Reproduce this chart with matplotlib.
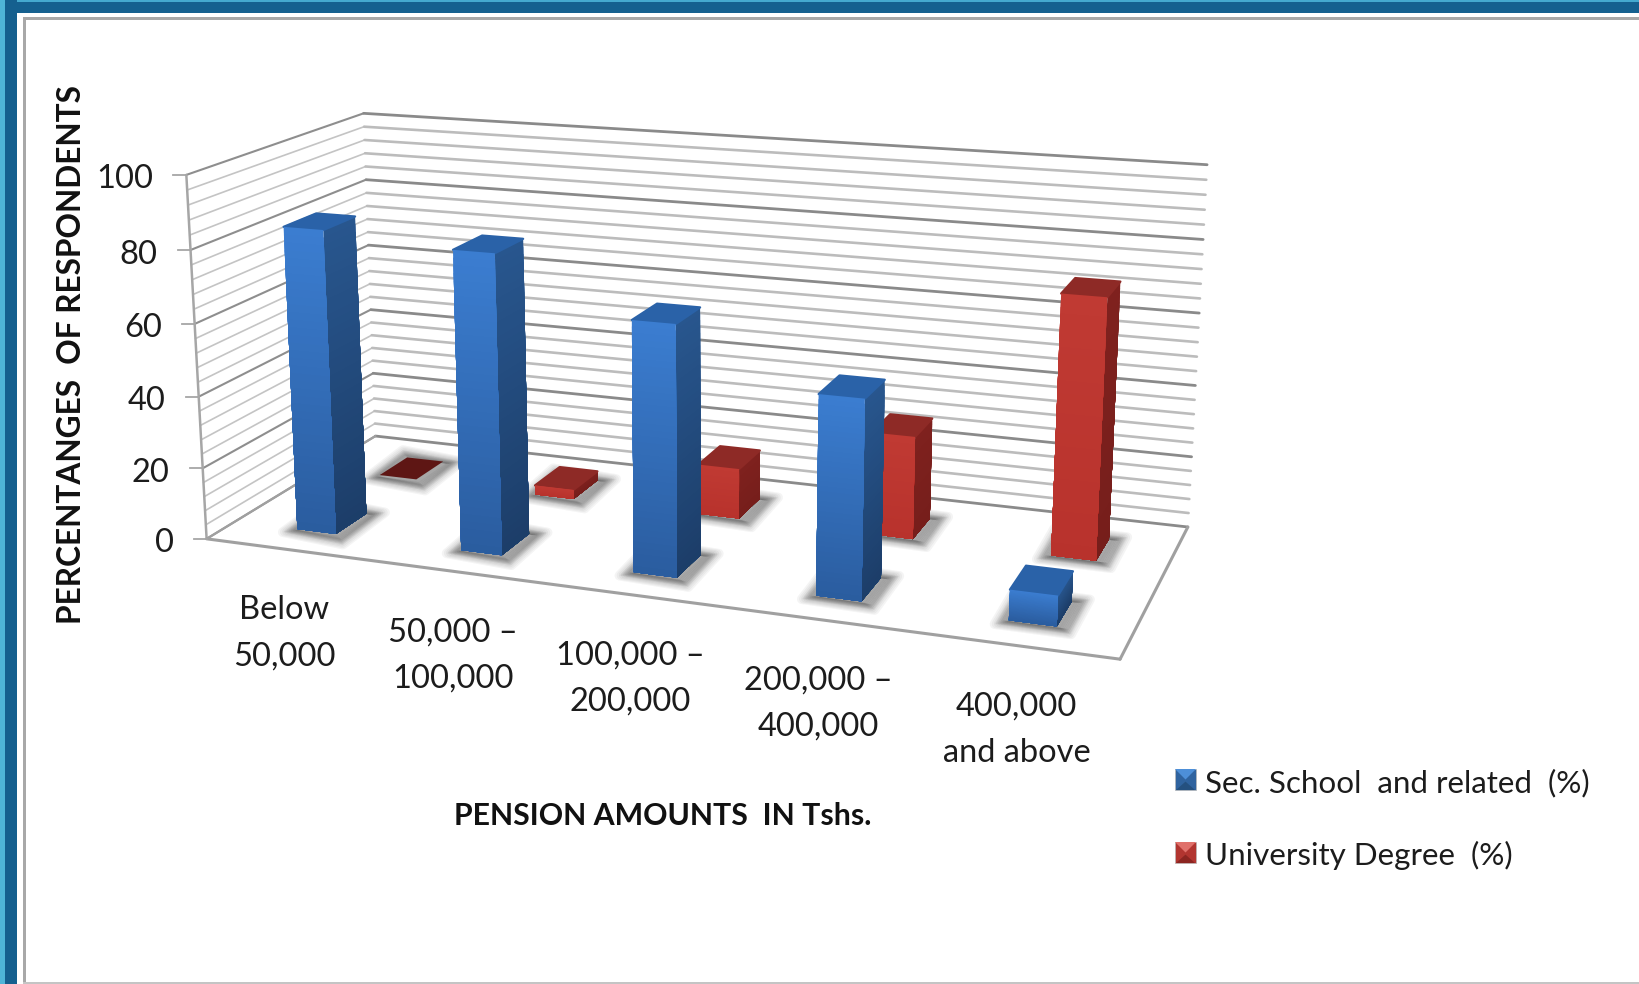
"""Pension amounts by education level, drawn as an Excel style 3-D column chart.

matplotlib's own 3-D axes cannot take the camera of the original, so the
projection is fitted to the corners of the chart box and faces are drawn as
polygons on a plain pixel-sized axes.
"""

import numpy as np
import matplotlib
matplotlib.use("Agg")
import matplotlib.pyplot as plt  # noqa: E402
from matplotlib.patches import Polygon, Rectangle  # noqa: E402

W, H = 1639, 984

CATEGORIES = ["Below\n50,000", "50,000 –\n100,000", "100,000 –\n200,000",
              "200,000 –\n400,000", "400,000\nand above"]
SEC_SCHOOL = [84.4, 81.9, 67.5, 52.9, 8.0]
UNIVERSITY = [0.3, 2.7, 14.3, 28.7, 71.0]
MAJOR_TICKS = [0, 20, 40, 60, 80, 100]
MINOR_STEP = 4

# chart box corner -> pixel, used to fit the camera
ANCHORS = [((0, 0, 0), (207, 538)), ((0, 0, 100), (186, 175)),
           ((0, 1, 100), (364, 113)), ((0, 1, 0), (375, 437)),
           ((5, 1, 100), (1207, 165)), ((5, 1, 0), (1188, 526)),
           ((5, 0, 0), (1120, 660))]

BLUE = dict(front=("#3b7dd0", "#2a5c9e"), side=("#28568e", "#1c3d68"), top="#2a62a8", flat="#2a62a8")
RED = dict(front=("#c03a33", "#b8322c"), side=("#7f211e", "#761e1b"), top="#8e2a26", flat="#5e1614")


def fit_camera():
    rows = []
    for (x, y, z), (u, v) in ANCHORS:
        p = [x, y, z / 100, 1]
        rows.append(p + [0] * 4 + [-u * c for c in p])
        rows.append([0] * 4 + p + [-v * c for c in p])
    return np.linalg.svd(np.array(rows, float))[2][-1].reshape(3, 4)


CAM = fit_camera()


def proj(x, y, z):
    h = CAM @ np.array([x, y, z / 100, 1])
    return h[:2] / h[2]


def gradient_face(ax, corners, colors, zorder, n=40):
    # corners: top-left, top-right, bottom-right, bottom-left in data space.
    # every slab runs down to the bottom edge, the next one paints over it,
    # that keeps hairline seams out of the gradient
    c0 = np.array(matplotlib.colors.to_rgb(colors[0]))
    c1 = np.array(matplotlib.colors.to_rgb(colors[1]))
    tl, tr, br, bl = [np.array(c, float) for c in corners]
    for i in range(n):
        a = i / n
        pts = [proj(*(tl + (bl - tl) * a)), proj(*(tr + (br - tr) * a)), proj(*br), proj(*bl)]
        ax.add_patch(Polygon(pts, closed=True, fc=c0 + (c1 - c0) * a, ec="none",
                             zorder=zorder + i * 0.0001))


def shadow(ax, x0, x1, y0, y1, zorder):
    base = np.array([proj(x0, y0, 0), proj(x1, y0, 0), proj(x1, y1, 0), proj(x0, y1, 0)])
    mid = base.mean(axis=0)
    away = base - mid
    away = away / np.linalg.norm(away, axis=1, keepdims=True)
    for k in range(2, 22, 2):
        pts = base + away * k * np.array([0.85, 0.5]) + np.array([2.0, 1.0])
        # stroke with round joins takes the points off the corners
        ax.add_patch(Polygon(pts, closed=True, fc="#303030", ec="#303030", lw=k * 0.35,
                             joinstyle="round", alpha=0.05, zorder=zorder))


def bar(ax, i, value, y0, y1, style, zorder):
    x0, x1 = i + 0.39, i + 0.63
    shadow(ax, x0, x1, y0, y1, zorder - 0.2)
    lid = [proj(x0, y0, value), proj(x1, y0, value), proj(x1, y1, value), proj(x0, y1, value)]
    if value < 1:
        # nearly no height: only the dark lid shows
        ax.add_patch(Polygon(lid, closed=True, fc=style["flat"], ec="none", zorder=zorder))
        return
    gradient_face(ax, [(x1, y0, value), (x1, y1, value), (x1, y1, 0), (x1, y0, 0)],
                  style["side"], zorder)
    ax.add_patch(Polygon(lid, closed=True, fc=style["top"], ec=style["top"], lw=1.6,
                         joinstyle="round", zorder=zorder + 0.05))
    gradient_face(ax, [(x0, y0, value), (x1, y0, value), (x1, y0, 0), (x0, y0, 0)],
                  style["front"], zorder + 0.1)


def line3(ax, a, b, color, lw, zorder=2):
    p, q = proj(*a), proj(*b)
    ax.plot([p[0], q[0]], [p[1], q[1]], color=color, lw=lw, zorder=zorder,
            solid_capstyle="round")


def legend_swatch(ax, x, y, size, base, light, dark):
    ax.add_patch(Rectangle((x, y), size, size, fc=base, ec="#b8b8b8", lw=0.5, zorder=5))
    ax.add_patch(Polygon([(x, y), (x + size, y), (x + size / 2, y + size / 2)],
                         closed=True, fc=light, ec="none", zorder=6))
    ax.add_patch(Polygon([(x + 1, y + size), (x + size - 1, y + size), (x + size / 2, y + size * 0.6)],
                         closed=True, fc=dark, ec="none", zorder=6))


def main():
    plt.rcParams["font.family"] = ["Lato", "DejaVu Sans"]
    fig = plt.figure(figsize=(W / 100, H / 100), dpi=100)
    ax = fig.add_axes([0, 0, 1, 1])
    ax.set_xlim(0, W)
    ax.set_ylim(H, 0)
    ax.axis("off")

    # slide frame
    ax.add_patch(Rectangle((0, 0), W, 13, fc="#15608f", ec="none", zorder=0))
    ax.add_patch(Rectangle((0, 0), W, 1.5, fc="#45a9cf", ec="none", zorder=0))
    ax.add_patch(Rectangle((0, 0), 17, H, fc="#15608f", ec="none", zorder=0))
    ax.add_patch(Rectangle((0, 0), 5, H, fc="#4fb5d8", ec="none", zorder=0))
    ax.add_patch(Rectangle((23, 17), W, 3, fc="#a8a8a8", ec="none", zorder=0))
    ax.add_patch(Rectangle((23, 17), 3, H, fc="#a8a8a8", ec="none", zorder=0))
    ax.add_patch(Rectangle((23, H - 2), W, 2, fc="#c4c4c4", ec="none", zorder=0))

    # walls: minor lines first, majors on top
    for z in np.arange(0, 100 + MINOR_STEP, MINOR_STEP):
        major = z in MAJOR_TICKS
        order = 2 if major else 1
        line3(ax, (0, 0, z), (0, 1, z), "#8e8e8e" if major else "#c4c4c4", 1.5 if major else 1.2, order)
        line3(ax, (0, 1, z), (5, 1, z), "#8a8a8a" if major else "#bcbcbc", 2.0 if major else 1.9, order)

    # box edges
    line3(ax, (0, 0, 0), (0, 0, 100), "#a6a6a6", 1.8)
    line3(ax, (0, 0, 0), (5, 0, 0), "#a0a0a0", 2.2)
    line3(ax, (5, 0, 0), (5, 1, 0), "#a0a0a0", 2.2)
    line3(ax, (0, 0, 0), (0, 1, 0), "#a0a0a0", 1.6)

    # value axis ticks and labels
    for z in MAJOR_TICKS:
        u, v = proj(0, 0, z)
        ax.plot([u - 13, u], [v, v], color="#a6a6a6", lw=1.3, zorder=2)
        ax.text(u - 33, v + 4.5, str(z), ha="right", va="center", fontsize=23.5, color="#1c1c1c")

    # painter's order: back row first
    for i in reversed(range(len(UNIVERSITY))):
        bar(ax, i, UNIVERSITY[i], 0.65, 0.83, RED, zorder=4 + 0.5 * i)
    for i in reversed(range(len(SEC_SCHOOL))):
        bar(ax, i, SEC_SCHOOL[i], 0.155, 0.335, BLUE, zorder=8 + 0.5 * i)

    # category labels hang off the front edge of the floor
    for i, label in enumerate(CATEGORIES):
        u, v = proj(i + 0.5, 0, 0)
        ax.text(u - 3 + i * 0.75, v + 84, label, ha="center", va="center", fontsize=23.5,
                color="#1c1c1c", linespacing=1.68)

    ax.text(72, 355, "PERCENTANGES  OF RESPONDENTS", rotation=90, ha="center", va="center",
            fontsize=22.8, fontweight="bold", color="#111111")
    ax.text(663, 816, "PENSION AMOUNTS  IN Tshs.", ha="center", va="center",
            fontsize=21.8, fontweight="bold", color="#111111")

    legend_swatch(ax, 1175, 769, 21, "#2f639f", "#4d8fd8", "#24507f")
    legend_swatch(ax, 1175, 842, 21, "#b23530", "#e0706a", "#8c2521")
    ax.text(1205, 783, "Sec. School  and related  (%)", ha="left", va="center",
            fontsize=22.6, color="#1c1c1c")
    ax.text(1205, 855, "University Degree  (%)", ha="left", va="center",
            fontsize=22.6, color="#1c1c1c")

    fig.savefig("out.png", dpi=100)


if __name__ == "__main__":
    main()
